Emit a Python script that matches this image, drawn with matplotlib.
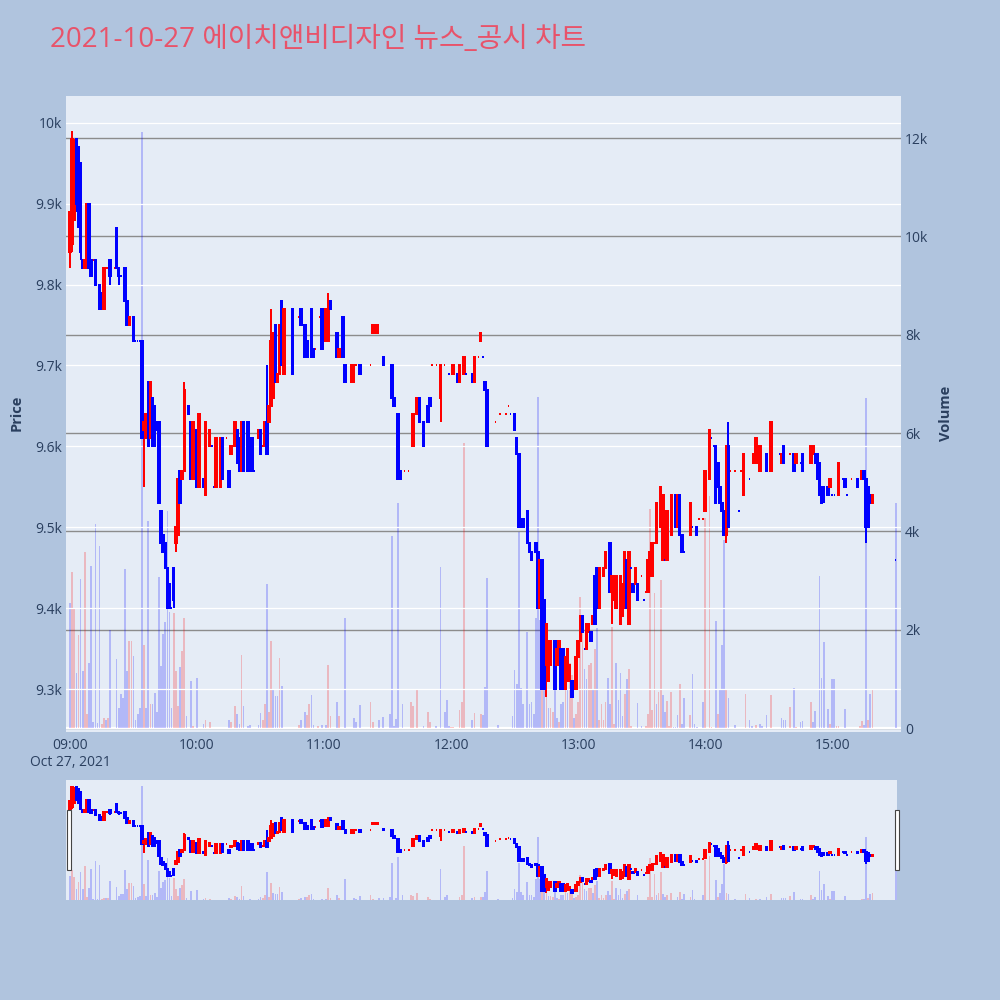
import matplotlib
matplotlib.use('Agg')
import matplotlib.pyplot as plt
from matplotlib.patches import Rectangle

plt.rcParams['font.family'] = ['Open Sans', 'Noto Sans CJK KR', 'DejaVu Sans']

title = '2021-10-27 에이치앤비디자인 뉴스_공시 차트'

# candles, minute offsets from 09:00
c_min = [0, 1, 2, 3, 4, 5, 6, 7, 8, 9, 10, 11, 12, 14, 15, 16, 17, 18, 19, 21, 22, 23, 24, 26, 27, 28,
         30, 31, 32, 33, 34, 35, 36, 37, 38, 39, 40, 41, 42, 43, 44, 45, 46, 47, 48, 49, 50, 51, 52, 53, 54, 56, 57, 58,
         60, 61, 63, 64, 66, 67, 68, 69, 71, 72, 74, 75, 76, 78, 79, 80, 81, 82, 84, 85, 86, 87, 89, 90, 91,
         92, 93, 94, 95, 96, 97, 98, 99, 100, 101, 105, 108, 109, 111, 112, 114, 115, 116, 118, 119,
         121, 122, 123, 126, 127, 129, 130, 133, 134, 135, 137, 142, 143, 145, 148, 152, 153, 155, 156, 158,
         160, 162, 164, 165, 167, 169, 170, 171, 173, 175, 177, 179,
         181, 183, 184, 186, 187, 190, 191, 193, 194, 195, 196, 197, 201, 203, 206, 207, 208, 210, 211, 212,
         213, 214, 216, 217, 218, 220, 221, 222, 223, 224, 225, 226, 227, 229, 230, 231, 232, 233, 234, 235,
         236, 237, 239,
         240, 241, 242, 243, 244, 245, 246, 247, 248, 249, 250, 252, 253, 255, 256, 257, 258, 260, 261, 262,
         263, 264, 265, 266, 267, 268, 270, 271, 272, 273, 274, 275, 276, 277, 279, 280, 281, 282, 284, 286,
         287, 288, 289, 290, 293, 294, 296, 297, 299,
         300, 302, 303, 304, 305, 306, 307, 308, 309, 310, 311, 312, 314, 316, 317, 318, 321, 323, 324, 326,
         329, 331, 335, 336, 337, 340, 342, 343, 345, 346, 350, 351, 352, 353, 354, 355, 356, 358, 359,
         360, 361, 363, 365, 366, 367, 369, 372, 374, 375, 376, 377, 378, 379, 390]

c_open = [9840, 9850, 9880, 9980, 9970, 9950, 9830, 9820, 9830, 9900, 9830, 9830, 9830,
          9800, 9790, 9770, 9820, 9820, 9830, 9820, 9870, 9820, 9810, 9820, 9780, 9750,
          9760, 9730, 9730, 9730, 9730, 9620, 9610, 9680, 9610, 9660, 9650, 9630, 9630, 9520, 9490, 9480,
          9450, 9430, 9400, 9450, 9480, 9490, 9570, 9560, 9570, 9650, 9630, 9560,
          9620, 9550, 9560, 9540, 9600, 9600, 9550, 9550, 9550, 9610, 9610, 9570, 9590, 9600, 9620,
          9610, 9570, 9630, 9630, 9570, 9610, 9570, 9610, 9620, 9600, 9600, 9630, 9630, 9650, 9660,
          9750, 9680, 9690, 9780, 9690, 9770, 9760, 9770, 9750, 9730, 9770, 9720, 9720, 9760, 9770,
          9730, 9730, 9780, 9740, 9710, 9760, 9700, 9680, 9680, 9700, 9700, 9700, 9740, 9740, 9710,
          9700, 9660, 9640, 9570, 9570, 9570, 9600, 9640, 9660, 9630, 9650, 9660, 9700, 9700, 9660,
          9700, 9690,
          9690, 9690, 9680, 9690, 9690, 9690, 9680, 9710, 9730, 9710, 9680, 9670, 9630, 9640, 9640,
          9650, 9640, 9640, 9610, 9590, 9510, 9510, 9520, 9480, 9470, 9480, 9470, 9400, 9460, 9410,
          9330, 9310, 9330, 9360, 9330, 9330, 9350, 9350, 9300, 9310, 9310, 9310, 9300,
          9340, 9360, 9390, 9350, 9350, 9370, 9370, 9380, 9440, 9450, 9400, 9440, 9450, 9480, 9420,
          9410, 9400, 9380, 9390, 9400, 9460, 9380, 9450, 9430, 9430, 9430, 9440, 9410, 9420, 9420,
          9440, 9440, 9480, 9480, 9500, 9460, 9460, 9460, 9490, 9540, 9500, 9540, 9490, 9470, 9490,
          9500, 9500, 9510, 9510,
          9520, 9560, 9610, 9600, 9600, 9580, 9550, 9530, 9520, 9490, 9600, 9570, 9570, 9520, 9570,
          9540, 9560, 9580, 9580, 9570, 9590, 9570, 9590, 9580, 9600, 9590, 9590, 9580, 9580, 9590,
          9580, 9590, 9590, 9590, 9580, 9550, 9550, 9550, 9550,
          9540, 9540, 9540, 9560, 9560, 9540, 9560, 9560, 9560, 9570, 9560, 9550, 9540, 9530, 9460]

c_high = [9890, 9990, 9980, 9980, 9970, 9950, 9830, 9830, 9900, 9900, 9830, 9830, 9830,
          9800, 9790, 9820, 9820, 9820, 9830, 9820, 9870, 9820, 9810, 9820, 9780, 9760,
          9760, 9730, 9730, 9730, 9730, 9640, 9640, 9680, 9680, 9660, 9650, 9630, 9630, 9520, 9490, 9480,
          9450, 9430, 9400, 9450, 9500, 9560, 9570, 9570, 9680, 9650, 9630, 9630,
          9620, 9640, 9560, 9630, 9620, 9600, 9550, 9610, 9610, 9610, 9610, 9570, 9600, 9630, 9620,
          9610, 9630, 9630, 9630, 9570, 9610, 9570, 9620, 9620, 9600, 9630, 9700, 9650, 9770, 9740,
          9750, 9690, 9750, 9780, 9770, 9770, 9760, 9770, 9750, 9730, 9770, 9720, 9720, 9760, 9770,
          9770, 9790, 9780, 9740, 9720, 9760, 9700, 9700, 9700, 9700, 9700, 9700, 9750, 9750, 9710,
          9700, 9660, 9640, 9570, 9570, 9570, 9640, 9660, 9660, 9630, 9650, 9660, 9700, 9700, 9700,
          9700, 9690,
          9700, 9690, 9700, 9710, 9690, 9690, 9710, 9710, 9740, 9710, 9680, 9670, 9630, 9640, 9640,
          9650, 9640, 9640, 9610, 9590, 9510, 9510, 9520, 9480, 9470, 9480, 9470, 9460, 9460, 9410,
          9380, 9360, 9360, 9360, 9350, 9360, 9350, 9350, 9340, 9350, 9330, 9310, 9340,
          9360, 9390, 9390, 9350, 9380, 9380, 9370, 9390, 9440, 9450, 9450, 9450, 9470, 9480, 9440,
          9440, 9440, 9440, 9430, 9470, 9460, 9470, 9450, 9430, 9450, 9430, 9440, 9410, 9420, 9460,
          9470, 9480, 9480, 9530, 9550, 9540, 9460, 9520, 9540, 9540, 9540, 9540, 9490, 9470, 9530,
          9500, 9500, 9510, 9510,
          9570, 9620, 9610, 9600, 9600, 9580, 9550, 9530, 9520, 9600, 9630, 9570, 9570, 9520, 9570,
          9590, 9560, 9590, 9610, 9600, 9590, 9630, 9590, 9590, 9600, 9590, 9590, 9590, 9580, 9590,
          9600, 9600, 9590, 9590, 9580, 9550, 9550, 9550, 9560,
          9540, 9540, 9580, 9560, 9560, 9540, 9560, 9560, 9570, 9570, 9560, 9550, 9540, 9540, 9460]

c_low = [9820, 9840, 9880, 9890, 9870, 9830, 9820, 9820, 9830, 9820, 9810, 9830, 9800,
         9770, 9770, 9770, 9820, 9820, 9800, 9820, 9820, 9800, 9810, 9780, 9750, 9750,
         9730, 9730, 9730, 9730, 9610, 9550, 9610, 9600, 9610, 9600, 9600, 9620, 9530, 9480, 9470, 9450,
         9400, 9400, 9400, 9400, 9470, 9490, 9530, 9560, 9570, 9640, 9560, 9560,
         9550, 9550, 9550, 9540, 9600, 9600, 9550, 9550, 9550, 9560, 9610, 9550, 9590, 9600, 9580,
         9570, 9570, 9570, 9570, 9570, 9570, 9570, 9610, 9590, 9600, 9600, 9590, 9630, 9650, 9660,
         9680, 9680, 9690, 9700, 9690, 9690, 9760, 9750, 9710, 9710, 9710, 9710, 9720, 9760, 9720,
         9730, 9730, 9770, 9710, 9710, 9710, 9680, 9680, 9680, 9700, 9690, 9700, 9740, 9740, 9700,
         9660, 9650, 9560, 9560, 9570, 9570, 9600, 9640, 9630, 9600, 9630, 9650, 9700, 9700, 9630,
         9700, 9690,
         9690, 9680, 9680, 9690, 9690, 9680, 9680, 9710, 9730, 9710, 9670, 9600, 9630, 9640, 9640,
         9650, 9640, 9620, 9590, 9500, 9500, 9500, 9480, 9470, 9460, 9470, 9400, 9400, 9300, 9300,
         9290, 9310, 9330, 9300, 9330, 9330, 9300, 9300, 9300, 9310, 9310, 9290, 9300,
         9340, 9360, 9370, 9350, 9350, 9370, 9360, 9380, 9380, 9400, 9400, 9440, 9450, 9420, 9380,
         9410, 9400, 9380, 9390, 9400, 9400, 9380, 9450, 9420, 9430, 9410, 9440, 9410, 9420, 9420,
         9440, 9440, 9480, 9480, 9500, 9460, 9460, 9460, 9490, 9500, 9500, 9490, 9470, 9470, 9490,
         9500, 9490, 9510, 9510,
         9520, 9560, 9610, 9600, 9530, 9550, 9530, 9520, 9490, 9480, 9500, 9570, 9570, 9520, 9570,
         9540, 9560, 9580, 9580, 9570, 9570, 9570, 9590, 9580, 9580, 9590, 9570, 9580, 9580, 9570,
         9580, 9590, 9580, 9560, 9540, 9530, 9530, 9540, 9550,
         9540, 9540, 9540, 9560, 9550, 9540, 9560, 9550, 9560, 9560, 9480, 9500, 9530, 9530, 9460]

c_close = [9890, 9980, 9970, 9900, 9880, 9840, 9820, 9830, 9900, 9820, 9810, 9830, 9800,
           9770, 9770, 9820, 9820, 9820, 9810, 9820, 9820, 9810, 9810, 9780, 9750, 9760,
           9730, 9730, 9730, 9730, 9610, 9630, 9640, 9600, 9680, 9600, 9600, 9620, 9530, 9480, 9470, 9450,
           9400, 9400, 9400, 9410, 9500, 9560, 9530, 9570, 9670, 9640, 9560, 9630,
           9550, 9640, 9550, 9630, 9620, 9600, 9550, 9610, 9610, 9560, 9610, 9550, 9600, 9630, 9580,
           9570, 9630, 9570, 9570, 9570, 9570, 9570, 9620, 9590, 9600, 9630, 9590, 9650, 9730, 9740,
           9680, 9690, 9750, 9700, 9770, 9690, 9760, 9750, 9710, 9710, 9710, 9710, 9720, 9760, 9720,
           9770, 9780, 9770, 9710, 9720, 9710, 9680, 9700, 9700, 9700, 9690, 9700, 9750, 9750, 9700,
           9660, 9650, 9560, 9560, 9570, 9570, 9640, 9660, 9630, 9600, 9630, 9650, 9700, 9700, 9700,
           9700, 9690,
           9700, 9680, 9700, 9710, 9690, 9680, 9710, 9710, 9740, 9710, 9670, 9600, 9630, 9640, 9640,
           9650, 9640, 9620, 9590, 9500, 9500, 9500, 9480, 9470, 9460, 9470, 9400, 9460, 9300, 9300,
           9380, 9360, 9360, 9300, 9350, 9360, 9300, 9300, 9340, 9350, 9330, 9290, 9340,
           9360, 9390, 9370, 9350, 9380, 9380, 9360, 9390, 9380, 9400, 9450, 9450, 9470, 9420, 9440,
           9440, 9440, 9440, 9430, 9470, 9400, 9470, 9450, 9420, 9450, 9410, 9440, 9410, 9420, 9460,
           9470, 9480, 9480, 9530, 9550, 9540, 9460, 9520, 9540, 9500, 9540, 9490, 9470, 9470, 9530,
           9500, 9490, 9510, 9510,
           9570, 9620, 9610, 9600, 9530, 9550, 9530, 9520, 9490, 9600, 9500, 9570, 9570, 9520, 9570,
           9590, 9560, 9590, 9610, 9600, 9570, 9630, 9590, 9590, 9580, 9590, 9570, 9590, 9580, 9570,
           9600, 9600, 9580, 9560, 9540, 9530, 9540, 9540, 9560,
           9540, 9540, 9580, 9560, 9550, 9540, 9560, 9550, 9570, 9560, 9500, 9500, 9530, 9540, 9460]

# volume bars (minute, shares, 1 = red / 0 = blue)
vol_min = [0, 1, 2, 3, 4, 5, 6, 7, 8, 9, 10, 11, 12, 13, 14, 15, 16, 17, 18, 19, 21, 22, 23, 24, 25, 26,
           27, 28, 29, 30, 31, 32, 33, 34, 35, 36, 37, 38, 39, 40, 41, 42, 43, 44, 45, 46, 47, 48, 49, 50,
           51, 52, 53, 54, 55, 57, 58,
           60, 63, 64, 66, 71, 75, 76, 78, 79, 80, 81, 82, 84, 85, 89, 90, 91, 92, 93, 94, 95, 96, 97, 98,
           99, 100, 105, 108, 109, 111, 112, 113, 114, 115, 117, 119,
           121, 122, 123, 126, 127, 130, 133, 134, 135, 137, 142, 143, 146, 148, 151, 152, 153, 154, 155,
           157, 161, 162, 164, 167, 169, 170, 173, 175, 177, 178, 179,
           180, 181, 184, 185, 186, 190, 191, 194, 195, 196, 197, 201, 202, 206, 209, 210, 211, 212, 213,
           214, 216, 217, 218, 219, 220, 221, 222, 223, 224, 225, 226, 227, 228, 229, 230, 231, 232, 233,
           234, 235, 236, 237, 238, 239,
           240, 241, 242, 243, 244, 245, 246, 247, 248, 249, 250, 251, 252, 253, 254, 255, 256, 257, 258,
           259, 260, 261, 262, 263, 264, 265, 268, 270, 272, 273, 274, 275, 276, 277, 278, 279, 280, 281,
           282, 283, 284, 285, 286, 287, 288, 289, 290, 293, 294, 295, 296, 299,
           300, 301, 302, 303, 305, 306, 307, 308, 309, 310, 311, 314, 319, 321, 322, 324, 326, 327, 329,
           331, 336, 337, 338, 340, 342, 343, 345, 346, 350, 351, 352, 354, 355, 356, 358, 359,
           360, 361, 362, 363, 366, 372, 373, 374, 375, 376, 377, 378, 379, 390]

vol = [2550, 3180, 2440, 1120, 1900, 3030, 1160, 3590, 290, 1320, 3290, 130, 4140, 100, 3700, 90, 210,
       170, 210, 2000, 10, 1400, 410, 690, 610, 3240,
       1160, 1780, 1760, 1470, 170, 290, 410, 12130, 1680, 410, 4220, 490, 490, 720, 330, 3070, 1260,
       1920, 2160, 4420, 2360, 410, 2340, 1160, 450, 1240, 1560, 2240, 250, 960, 50,
       1020, 90, 170, 130, 10, 170, 130, 450, 290, 90, 1480, 450, 50, 70, 70, 310, 170, 490, 2930, 330,
       1760, 770, 650, 650, 1420, 860, 10, 70, 170, 330, 270, 490, 670, 70, 40, 70,
       70, 1280, 250, 530, 250, 2240, 10, 200, 120, 470, 530, 130, 170, 230, 290, 3900, 50, 190, 4570,
       490, 530, 450, 770, 40, 330, 130, 50, 3270, 330, 570, 40,
       20, 20, 370, 530, 5790, 170, 310, 290, 270, 830, 3060, 10, 70, 10, 250, 1180, 900, 3980, 810,
       490, 1960, 490, 530, 290, 2240, 6740, 2200, 2850, 2000, 1160, 410, 410, 330, 1200, 210, 130, 490,
       530, 1240, 770, 1320, 1080, 210, 290,
       530, 2660, 2290, 1200, 1000, 1280, 1320, 770, 1600, 2040, 170, 490, 170, 530, 1010, 490, 2050,
       90, 1320, 570, 1120, 250, 690, 990, 1200, 50, 510, 40, 50, 290, 4460, 370, 2750, 490, 730, 3010,
       670, 330, 550, 50, 730, 20, 20, 270, 890, 90, 610, 270, 1100, 90, 30, 530,
       4280, 10, 4720, 20, 2170, 290, 770, 1680, 3830, 770, 620, 70, 690, 170, 40, 70, 90, 50, 270,
       670, 210, 170, 170, 420, 810, 20, 130, 150, 530, 130, 350, 3090, 1020, 1740, 390, 90,
       990, 1000, 50, 50, 390, 10, 40, 150, 70, 6710, 170, 690, 770, 4580]

vol_up = [0, 1, 1, 0, 1, 0, 0, 1, 1, 0, 0, 0, 0, 0, 0, 1, 1, 0, 1, 0, 1, 0, 0, 0, 0, 0,
          0, 1, 1, 0, 0, 0, 0, 0, 1, 0, 0, 1, 0, 0, 0, 0, 0, 0, 0, 0, 0, 0, 1, 1,
          1, 0, 1, 1, 0, 0, 1,
          0, 0, 1, 1, 0, 0, 1, 1, 0, 0, 1, 0, 0, 0, 0, 0, 1, 1, 0, 1, 1, 0, 0, 0,
          1, 0, 0, 1, 0, 0, 1, 1, 0, 0, 1, 0,
          0, 1, 1, 0, 1, 0, 1, 0, 0, 0, 1, 1, 0, 0, 0, 0, 0, 0, 0,
          0, 1, 1, 1, 0, 1, 1, 0, 0, 0, 0, 0,
          1, 1, 1, 1, 1, 0, 1, 1, 0, 0, 0, 1, 0, 1, 0, 0, 0, 0, 0,
          0, 0, 0, 0, 0, 0, 0, 0, 1, 0, 1, 0, 1, 1, 0, 0, 1, 0, 0,
          1, 0, 1, 1, 0, 1,
          1, 1, 1, 0, 0, 1, 1, 0, 1, 0, 1, 1, 1, 1, 0, 0, 1, 1, 0,
          0, 0, 0, 1, 0, 1, 1, 0, 0, 1, 1, 1, 1, 1, 0, 1, 1, 0, 0,
          1, 1, 1, 0, 0, 0, 1, 0, 0, 1, 0, 0, 0, 0,
          1, 1, 1, 1, 0, 1, 0, 0, 0, 1, 0, 0, 1, 0, 0, 1, 0, 0, 0,
          1, 0, 0, 0, 1, 0, 1, 0, 0, 1, 0, 0, 0, 0, 0, 0, 1,
          0, 0, 1, 1, 0, 1, 1, 1, 0, 0, 1, 0, 1, 0]

hour_ticks = [0, 60, 120, 180, 240, 300, 360]
hour_labels = ['09:00\nOct 27, 2021', '10:00', '11:00', '12:00', '13:00', '14:00', '15:00']
price_ticks = [9300, 9400, 9500, 9600, 9700, 9800, 9900, 10000]
price_labels = ['9.3k', '9.4k', '9.5k', '9.6k', '9.7k', '9.8k', '9.9k', '10k']
vol_ticks = [0, 2000, 4000, 6000, 8000, 10000, 12000]
vol_labels = ['0', '2k', '4k', '6k', '8k', '10k', '12k']

RED = '#FF0000'
BLUE = '#0000FF'
TXT = '#2a3f5f'
BG = '#B0C4DE'
PLOT_BG = '#E5ECF6'

# candle direction, plotly style: doji follows previous close
up = []
prev = None
for o, c in zip(c_open, c_close):
    if c > o:
        u = True
    elif c < o:
        u = False
    elif prev is None or c > prev:
        u = True
    elif c < prev:
        u = False
    else:
        u = up[-1]
    up.append(u)
    prev = c
c_col = [RED if u else BLUE for u in up]
v_col = [(1, 0, 0, 0.22) if u else (0, 0, 1, 0.22) for u in vol_up]


def draw(axv, axp, lw):
    axv.bar(vol_min, vol, width=0.8, color=v_col, linewidth=0, zorder=2)
    axp.vlines(c_min, c_low, c_high, colors=c_col, linewidth=lw, zorder=3)
    heights = [c - o for o, c in zip(c_open, c_close)]
    axp.bar(c_min, heights, bottom=c_open, width=0.7, color=c_col,
            edgecolor=c_col, linewidth=lw, zorder=3)


fig = plt.figure(figsize=(10, 10), dpi=100, facecolor=BG)

# main chart
axv = fig.add_axes([0.066, 0.268, 0.835, 0.636])
axv.set_facecolor(PLOT_BG)
axp = axv.twinx()
draw(axv, axp, 1.44)

axv.set_xlim(-1.89, 392.5)
axv.set_ylim(-81, 12855)
axp.set_ylim(9247, 10033)

axv.yaxis.tick_right()
axp.yaxis.tick_left()
axv.set_yticks(vol_ticks)
axv.set_yticklabels(vol_labels)
axp.set_yticks(price_ticks)
axp.set_yticklabels(price_labels)
axv.set_xticks(hour_ticks)
axv.set_xticklabels(hour_labels)

for a in (axv, axp):
    a.tick_params(length=0, labelsize=10, labelcolor=TXT, pad=3)
    for s in a.spines.values():
        s.set_visible(False)
axv.tick_params(axis='x', pad=4)

axv.grid(axis='y', color='#8c8c8c', linewidth=1.0)
axv.set_axisbelow(True)
axv.axhline(0, color='white', linewidth=1.6, zorder=1)
axp.grid(axis='y', color='white', linewidth=0.9)
axp.set_axisbelow(True)

# range slider
slv = fig.add_axes([0.066, 0.100, 0.831, 0.120])
slv.set_facecolor(PLOT_BG)
slp = slv.twinx()
draw(slv, slp, 1.44)
slv.set_xlim(-1.89, 390.6)
slv.set_ylim(0, 12770)
slp.set_ylim(9244, 10029)
for a in (slv, slp):
    a.set_xticks([])
    a.set_yticks([])
    for s in a.spines.values():
        s.set_visible(False)

for hx in (0.0667, 0.8953):
    fig.patches.append(Rectangle((hx, 0.130), 0.004, 0.060, transform=fig.transFigure,
                                 facecolor='white', edgecolor='#444444', linewidth=0.8))

fig.text(0.05, 0.960, title, fontsize=20, color='#E8536A', va='center', ha='left')
fig.text(0.010, 0.587, 'Price', rotation=90, fontsize=10.5, fontweight='bold',
         color=TXT, va='center', ha='left')
fig.text(0.946, 0.587, 'Volume', rotation=90, fontsize=10.5, fontweight='bold',
         color=TXT, va='center', ha='center')

fig.savefig('out.png', dpi=100, facecolor=BG)
